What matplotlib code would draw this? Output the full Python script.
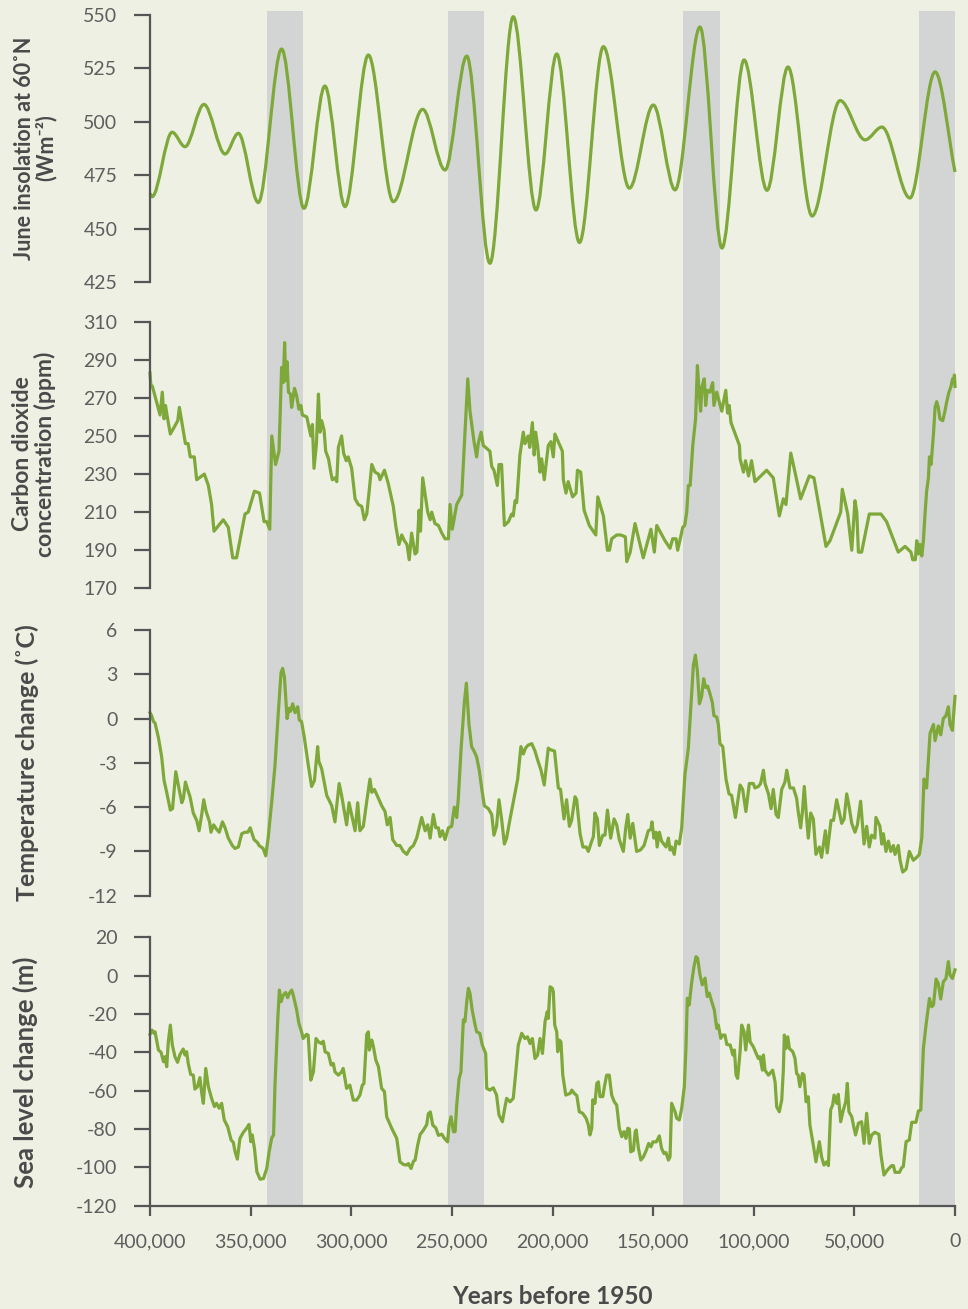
import numpy as np
import matplotlib
matplotlib.use("Agg")
import matplotlib.pyplot as plt
from matplotlib.path import Path
from matplotlib.patches import PathPatch

plt.rcParams['font.family'] = ['Lato', 'DejaVu Sans']
plt.rcParams['axes.unicode_minus'] = False

# ---- data (ages in thousands of years before 1950) ----
ins_age = [400.0, 399.0, 389.0, 382.6, 373.2, 362.7, 356.1, 346.2, 334.6, 323.5,
           313.1, 303.1, 291.5, 279.1, 264.5, 253.4, 242.6, 231.1, 219.5, 208.2,
           197.9, 186.6, 174.7, 161.8, 149.9, 139.1, 126.7, 115.8, 104.8, 93.4,
           83.0, 71.0, 57.1, 44.7, 36.3, 22.4, 9.9, 0.0]
ins_wm2 = [466.6, 465.0, 495.2, 488.4, 508.2, 485.0, 494.7, 462.3, 534.1, 459.6,
           516.8, 460.4, 531.3, 462.7, 505.9, 477.5, 530.8, 433.9, 549.2, 458.8,
           531.8, 443.6, 535.2, 469.0, 507.9, 468.2, 544.4, 441.0, 529.0, 468.0,
           525.7, 456.0, 510.0, 491.6, 497.6, 464.4, 523.4, 476.6]

co2_age = [400.0, 399.6, 398.8, 395.0, 393.9, 393.0, 392.3, 391.4, 389.9, 386.2,
           385.4, 382.4, 381.1, 380.0, 378.0, 376.8, 373.0, 371.0, 369.4, 368.2,
           363.6, 361.1, 358.9, 357.0, 352.8, 351.2, 348.1, 345.6, 343.3, 342.0,
           340.5, 339.5, 337.6, 335.9, 334.6, 333.8, 333.1, 332.6, 331.9, 331.2,
           330.2, 329.6, 328.2, 327.1, 326.0, 325.0, 324.3, 322.1, 320.1, 319.3,
           318.5, 317.3, 316.3, 315.5, 314.7, 313.5, 312.7, 311.3, 310.0, 309.4,
           308.0, 307.2, 306.4, 304.8, 303.8, 302.5, 301.5, 299.8, 298.1, 296.5,
           294.8, 293.5, 292.3, 291.2, 289.8, 288.2, 286.5, 285.7, 283.5, 281.6,
           279.1, 277.9, 276.3, 274.9, 273.6, 272.3, 271.2, 270.0, 268.3, 267.4,
           266.3, 265.6, 264.5, 262.0, 260.8, 260.0, 258.4, 256.7, 255.0, 253.4,
           251.7, 250.9, 249.8, 247.6, 245.1, 243.5, 242.1, 241.0, 239.0, 237.7,
           236.9, 235.5, 234.4, 231.1, 230.2, 229.1, 227.4, 226.6, 225.3, 223.9,
           221.9, 220.3, 219.5, 218.6, 217.8, 216.2, 214.5, 213.7, 212.1, 211.3,
           210.0, 209.1, 208.4, 207.4, 206.2, 205.4, 204.1, 202.1, 200.8, 199.6,
           198.8, 195.1, 194.6, 193.3, 192.2, 190.0, 188.3, 187.6, 186.0, 184.3,
           181.7, 178.5, 177.5, 174.7, 172.7, 171.7, 170.6, 168.1, 166.1, 163.8,
           163.1, 161.4, 159.0, 154.9, 151.1, 149.4, 148.2, 144.1, 141.6, 140.3,
           138.6, 137.8, 136.3, 135.3, 134.3, 133.3, 132.5, 131.6, 130.3, 128.9,
           128.0, 127.2, 126.4, 125.7, 124.6, 123.9, 123.1, 121.8, 120.4, 119.8,
           118.4, 115.9, 113.9, 113.0, 112.2, 111.3, 108.5, 107.1, 106.8, 105.1,
           104.1, 102.6, 101.1, 99.4, 93.6, 90.3, 87.3, 85.3, 84.0, 81.6,
           79.5, 76.7, 72.4, 70.1, 67.1, 64.1, 62.1, 56.8, 56.0, 53.3,
           51.3, 49.7, 48.8, 48.0, 46.4, 42.6, 36.8, 34.0, 28.2, 24.8,
           21.9, 21.0, 19.7, 19.0, 18.2, 17.4, 16.5, 15.7, 14.9, 14.1,
           13.2, 12.7, 11.9, 10.7, 9.9, 9.1, 8.3, 7.5, 6.1, 5.0,
           4.1, 3.0, 2.0, 1.2, 0.5, 0.3, 0.0]
co2_ppm = [283, 277, 276, 261, 273, 259, 266, 260, 251, 258,
           265, 246, 246, 239, 239, 227, 230, 224, 214, 200,
           206, 202, 186, 186, 209, 210, 221, 220, 205, 205,
           201, 250, 235, 242, 286, 278, 299, 279, 289, 273,
           272, 265, 275, 271, 264, 266, 261, 260, 250, 256,
           233, 246, 272, 252, 258, 253, 242, 238, 230, 227,
           228, 226, 244, 250, 241, 237, 239, 233, 217, 214,
           213, 206, 209, 220, 235, 231, 230, 227, 232, 225,
           213, 203, 193, 198, 195, 193, 185, 199, 188, 189,
           211, 200, 228, 210, 206, 210, 204, 203, 199, 196,
           196, 214, 201, 214, 219, 252, 280, 263, 247, 239,
           246, 252, 245, 242, 234, 232, 224, 235, 235, 203,
           205, 209, 208, 216, 215, 240, 252, 246, 250, 244,
           257, 240, 252, 245, 231, 238, 227, 245, 247, 239,
           251, 242, 227, 220, 226, 218, 220, 232, 231, 211,
           203, 198, 218, 208, 190, 190, 196, 198, 198, 197,
           184, 189, 204, 186, 201, 189, 203, 195, 191, 196,
           196, 190, 197, 202, 203, 210, 224, 224, 245, 259,
           287, 274, 263, 276, 280, 266, 274, 273, 278, 266,
           273, 263, 274, 262, 266, 257, 249, 245, 238, 231,
           237, 229, 237, 226, 232, 228, 208, 217, 214, 241,
           231, 217, 229, 228, 210, 192, 195, 210, 222, 209,
           190, 216, 210, 189, 189, 209, 209, 205, 189, 192,
           189, 185, 185, 195, 188, 193, 187, 195, 209, 221,
           228, 239, 235, 251, 265, 268, 265, 259, 258, 263,
           268, 273, 276, 280, 278, 282, 276]

temp_age = [400.0, 399.2, 398.3, 397.5, 395.8, 394.2, 393.0, 391.7, 389.9, 388.8,
            387.2, 385.8, 384.2, 383.4, 382.4, 381.3, 380.1, 378.5, 376.8, 375.6,
            374.3, 373.3, 372.1, 370.4, 369.7, 368.4, 366.9, 365.6, 364.0, 362.7,
            361.1, 359.1, 357.8, 356.1, 354.4, 352.8, 351.4, 350.2, 348.3, 346.6,
            345.8, 343.8, 342.5, 341.3, 339.5, 337.9, 336.2, 334.9, 334.1, 333.2,
            331.9, 330.9, 330.1, 329.1, 327.9, 326.6, 325.8, 324.7, 323.3, 321.3,
            319.7, 318.3, 316.7, 316.1, 314.7, 312.2, 309.7, 308.1, 306.0, 304.8,
            302.3, 301.1, 299.5, 298.1, 296.8, 295.7, 294.0, 292.3, 290.7, 289.8,
            288.5, 286.5, 284.9, 283.2, 282.1, 280.7, 279.4, 277.4, 275.8, 274.1,
            272.4, 270.8, 269.1, 267.5, 265.0, 263.3, 262.0, 260.8, 259.2, 258.0,
            256.7, 255.9, 254.7, 253.4, 251.7, 250.1, 248.8, 247.6, 246.8, 245.5,
            243.8, 242.8, 241.5, 240.2, 239.0, 237.7, 236.4, 235.2, 233.9, 231.9,
            230.2, 229.1, 227.8, 226.6, 225.3, 223.9, 222.8, 221.1, 219.0, 217.3,
            215.7, 214.5, 213.4, 212.1, 210.3, 208.7, 207.4, 205.7, 204.1, 202.1,
            201.2, 199.0, 197.1, 196.0, 194.3, 193.0, 191.6, 190.5, 188.8, 188.0,
            186.3, 184.9, 183.3, 182.2, 180.5, 179.7, 178.9, 177.7, 176.7, 175.0,
            173.9, 172.7, 171.1, 169.4, 168.1, 166.8, 164.8, 163.6, 162.6, 161.4,
            160.1, 158.2, 156.3, 154.5, 152.4, 151.1, 150.6, 149.6, 148.6, 148.0,
            146.9, 145.8, 143.6, 142.4, 141.6, 140.8, 139.5, 138.6, 137.0, 135.8,
            134.2, 132.5, 131.3, 130.0, 129.0, 128.0, 127.0, 125.9, 124.9, 123.9,
            122.9, 121.8, 120.6, 119.8, 118.4, 117.6, 116.8, 115.4, 113.8, 112.3,
            111.0, 109.1, 106.8, 105.5, 103.9, 102.2, 100.2, 99.4, 97.7, 96.6,
            95.2, 94.4, 92.7, 91.4, 90.3, 88.9, 87.8, 86.1, 84.5, 83.6,
            82.0, 80.3, 78.7, 77.9, 76.7, 75.8, 74.9, 73.7, 72.9, 71.7,
            70.4, 69.1, 67.4, 66.3, 64.4, 63.5, 61.6, 60.4, 58.8, 57.4,
            56.3, 55.1, 53.8, 52.7, 51.3, 49.7, 48.5, 46.9, 45.2, 43.9,
            42.6, 41.4, 39.8, 39.3, 37.3, 36.4, 35.6, 34.3, 33.1, 31.9,
            30.6, 29.8, 28.2, 27.3, 26.0, 24.3, 22.7, 20.7, 19.0, 17.7,
            16.5, 15.4, 14.1, 12.4, 10.7, 9.9, 8.3, 7.1, 5.8, 4.5,
            3.3, 2.5, 1.3, 0.0]
temp_dc = [0.4, 0.2, -0.2, -0.3, -1.3, -2.6, -4.2, -5.0, -6.2, -6.1,
           -3.6, -4.6, -5.7, -5.4, -4.3, -4.8, -5.3, -6.4, -6.9, -7.6,
           -6.5, -5.5, -6.3, -7.0, -7.7, -7.2, -7.5, -7.7, -7.0, -7.4,
           -8.1, -8.6, -8.8, -8.7, -7.8, -7.7, -7.7, -7.4, -8.2, -8.4,
           -8.6, -8.8, -9.3, -8.1, -5.6, -3.2, 0.5, 3.1, 3.4, 2.8,
           0.0, 0.7, 0.5, 1.0, 0.4, 0.8, -0.1, -0.2, -1.3, -3.2,
           -4.6, -4.2, -1.9, -2.9, -3.4, -5.2, -5.9, -7.0, -4.4, -5.2,
           -7.2, -5.7, -6.7, -7.6, -5.7, -7.6, -7.3, -5.6, -4.1, -5.0,
           -4.8, -5.4, -5.9, -6.3, -7.2, -6.7, -8.2, -8.6, -8.6, -9.0,
           -9.2, -8.8, -8.6, -8.1, -6.7, -7.6, -7.2, -8.1, -6.5, -7.4,
           -7.4, -8.0, -7.6, -8.2, -7.4, -7.3, -6.0, -6.7, -5.4, -2.2,
           1.1, 2.4, -0.4, -1.9, -2.2, -2.6, -3.5, -4.7, -5.9, -6.1,
           -6.5, -7.9, -7.3, -5.5, -6.8, -8.5, -8.1, -6.8, -5.3, -4.1,
           -1.9, -2.4, -2.0, -1.8, -1.7, -2.2, -2.8, -3.5, -4.5, -2.0,
           -2.1, -2.2, -4.7, -4.8, -6.8, -5.5, -7.3, -6.9, -5.3, -5.5,
           -7.8, -8.7, -8.7, -9.0, -8.3, -8.0, -6.4, -6.8, -8.6, -7.9,
           -7.9, -6.2, -8.1, -6.8, -7.2, -8.2, -9.0, -7.4, -6.5, -8.1,
           -7.1, -9.0, -8.9, -8.6, -7.6, -7.5, -7.0, -8.1, -7.7, -8.7,
           -7.7, -8.3, -8.7, -8.1, -8.9, -8.7, -9.2, -8.3, -8.5, -7.4,
           -3.8, -2.0, 0.7, 3.6, 4.3, 3.2, 1.0, 1.5, 2.7, 2.1,
           2.2, 1.7, 1.1, 0.2, 0.1, -0.4, -1.7, -1.9, -4.1, -5.1,
           -5.2, -6.7, -4.5, -4.8, -6.3, -4.4, -4.4, -4.7, -4.6, -4.4,
           -3.5, -4.4, -5.1, -6.1, -4.8, -6.5, -6.7, -4.8, -4.3, -3.5,
           -4.7, -4.7, -5.4, -6.3, -7.4, -6.3, -4.6, -6.8, -8.1, -6.4,
           -6.8, -9.2, -8.7, -9.4, -7.6, -9.1, -6.9, -6.9, -5.5, -6.4,
           -7.1, -6.8, -5.1, -5.9, -7.1, -7.7, -7.2, -5.6, -8.5, -7.3,
           -8.7, -7.9, -8.1, -6.7, -7.3, -8.5, -7.8, -9.0, -8.3, -9.0,
           -8.6, -9.2, -8.6, -9.6, -10.4, -10.2, -9.0, -9.6, -9.4, -9.2,
           -8.1, -4.1, -4.7, -1.0, -0.4, -1.5, -0.5, -1.1, 0.0, 0.2,
           0.8, -0.4, -0.8, 1.5]

sea_age = [400.0, 399.0, 398.0, 397.5, 395.8, 394.5, 393.3, 392.5, 391.7, 390.9,
           389.9, 388.9, 387.6, 386.3, 385.1, 383.5, 382.6, 381.8, 381.0, 379.8,
           378.5, 377.7, 376.4, 375.2, 374.4, 373.5, 372.3, 371.0, 369.4, 368.0,
           366.9, 365.6, 364.4, 363.1, 361.4, 359.7, 358.6, 357.8, 356.6, 355.3,
           353.6, 352.0, 350.8, 349.9, 349.2, 348.1, 346.9, 345.3, 343.6, 342.0,
           340.8, 339.5, 338.6, 337.9, 336.5, 335.7, 334.9, 333.8, 332.6, 331.6,
           330.8, 329.6, 328.8, 327.1, 326.0, 324.7, 323.9, 322.2, 321.4, 320.1,
           318.8, 317.5, 316.3, 315.0, 313.9, 313.0, 311.4, 310.0, 308.9, 308.1,
           306.4, 304.8, 304.0, 302.3, 300.7, 299.0, 297.3, 295.7, 294.5, 293.7,
           292.3, 291.5, 291.0, 289.8, 289.0, 287.8, 286.5, 284.9, 283.5, 282.4,
           279.9, 277.4, 275.8, 274.1, 272.4, 271.6, 270.3, 269.1, 268.3, 267.0,
           265.8, 264.2, 262.5, 261.7, 260.7, 259.5, 258.0, 256.7, 255.0, 253.7,
           252.1, 251.4, 250.4, 249.2, 248.4, 247.6, 246.4, 245.5, 244.3, 243.5,
           242.6, 241.8, 241.0, 239.9, 238.6, 237.7, 236.1, 234.9, 233.2, 232.7,
           231.1, 229.4, 227.8, 226.6, 224.9, 223.9, 222.8, 221.1, 219.5, 218.3,
           217.0, 215.3, 213.7, 212.4, 211.2, 210.0, 208.7, 207.4, 206.2, 205.0,
           203.7, 202.6, 202.1, 201.2, 200.1, 199.6, 198.9, 197.9, 197.4, 196.6,
           195.8, 194.9, 193.4, 191.2, 190.4, 189.2, 187.9, 186.7, 185.0, 183.3,
           182.2, 181.4, 180.5, 180.0, 178.9, 178.0, 177.2, 176.4, 175.0, 174.2,
           173.1, 171.8, 170.6, 169.3, 168.1, 166.8, 165.6, 164.5, 163.5, 162.6,
           161.8, 161.1, 159.8, 158.9, 158.4, 157.3, 156.1, 154.8, 153.4, 152.2,
           151.1, 150.1, 148.4, 146.9, 145.8, 144.6, 143.6, 142.4, 141.6, 140.8,
           139.1, 138.3, 137.0, 135.8, 134.5, 133.7, 133.0, 132.1, 130.8, 129.7,
           128.7, 127.9, 126.7, 125.6, 124.2, 123.1, 122.1, 120.9, 119.6, 118.4,
           117.6, 116.4, 115.4, 114.3, 113.4, 111.7, 110.4, 109.6, 108.8, 108.0,
           106.8, 106.0, 104.8, 104.0, 102.6, 101.8, 100.2, 98.8, 97.7, 96.9,
           95.7, 95.2, 94.4, 92.7, 90.6, 89.4, 88.6, 87.3, 86.1, 85.3,
           84.8, 84.0, 83.1, 82.3, 80.6, 79.5, 78.7, 77.9, 77.1, 75.8,
           75.0, 74.0, 72.9, 72.1, 70.4, 69.1, 67.4, 66.3, 65.1, 63.8,
           62.9, 61.8, 60.8, 60.1, 58.8, 58.0, 56.8, 55.5, 54.3, 53.5,
           52.7, 51.3, 50.5, 49.4, 48.0, 46.4, 45.2, 43.9, 42.6, 41.4,
           39.8, 37.8, 36.8, 35.3, 33.6, 31.5, 30.6, 29.8, 27.6, 26.5,
           25.7, 24.3, 22.7, 21.5, 19.4, 18.2, 17.0, 15.7, 14.4, 12.7,
           11.6, 10.7, 9.4, 8.3, 7.1, 5.8, 4.5, 3.3, 2.5, 1.3,
           0.0]
sea_m = [-30.6, -28.4, -30.1, -29.3, -38.8, -40.0, -44.9, -42.3, -47.5, -34.5,
         -25.8, -36.2, -42.3, -45.2, -41.1, -38.3, -41.4, -39.7, -45.8, -51.5,
         -51.9, -59.2, -57.9, -53.2, -60.5, -66.6, -48.4, -57.9, -64.0, -68.3,
         -66.6, -69.2, -66.6, -75.3, -78.8, -85.7, -87.0, -91.5, -95.7, -84.9,
         -81.7, -79.6, -77.6, -86.6, -83.1, -90.1, -102.3, -106.2, -105.8, -100.6,
         -91.9, -84.6, -83.1, -57.1, -22.3, -7.5, -13.6, -10.2, -8.8, -11.5,
         -9.3, -7.5, -10.2, -18.0, -25.0, -29.3, -32.8, -30.6, -31.1, -54.5,
         -50.2, -32.8, -34.5, -35.4, -34.2, -39.7, -40.6, -46.6, -45.8, -50.2,
         -51.9, -50.2, -48.4, -58.8, -57.1, -64.9, -64.9, -62.3, -57.1, -56.3,
         -30.6, -29.3, -38.8, -33.6, -37.0, -44.0, -47.5, -58.8, -60.5, -73.6,
         -79.6, -84.9, -97.1, -98.5, -98.8, -98.0, -100.6, -96.8, -96.3, -88.5,
         -82.9, -80.7, -77.7, -72.0, -71.1, -78.0, -79.4, -83.3, -82.7, -84.9,
         -86.7, -78.0, -73.6, -81.4, -81.4, -67.5, -53.6, -50.2, -23.1, -24.0,
         -13.6, -6.6, -9.3, -18.0, -25.0, -29.3, -30.1, -36.2, -40.6, -58.8,
         -59.7, -58.5, -62.3, -72.7, -76.2, -70.1, -64.0, -65.8, -64.0, -51.0,
         -36.2, -30.1, -32.8, -31.9, -35.4, -32.8, -43.2, -41.4, -32.8, -40.6,
         -24.0, -18.8, -22.3, -5.8, -6.6, -8.4, -25.8, -29.3, -39.7, -33.6,
         -34.5, -51.8, -62.3, -61.4, -59.7, -61.4, -62.6, -71.0, -71.8, -74.4,
         -77.9, -83.1, -79.6, -64.8, -66.6, -56.2, -55.4, -63.1, -63.1, -57.9,
         -51.9, -51.9, -62.3, -65.8, -67.5, -79.6, -84.0, -81.4, -84.9, -79.6,
         -80.0, -91.9, -91.1, -81.4, -80.5, -90.1, -96.2, -94.5, -91.1, -87.5,
         -89.3, -86.7, -86.7, -83.6, -90.1, -92.8, -92.3, -96.2, -94.5, -66.6,
         -71.0, -74.4, -75.3, -69.2, -57.9, -37.9, -11.8, -15.3, -3.2, 4.7,
         9.9, 9.1, 0.4, -4.8, -1.3, -10.9, -9.1, -13.5, -17.9, -27.5,
         -25.8, -32.7, -31.0, -31.0, -35.9, -36.2, -41.4, -38.8, -51.8, -53.6,
         -39.7, -25.8, -29.3, -38.8, -25.8, -34.5, -37.1, -40.6, -43.2, -42.3,
         -49.3, -41.4, -49.3, -51.9, -49.3, -55.4, -68.4, -71.0, -64.8, -49.3,
         -31.0, -38.0, -31.9, -38.0, -39.7, -43.2, -51.0, -51.9, -57.9, -51.0,
         -51.9, -65.8, -63.2, -77.9, -88.4, -97.1, -86.6, -94.5, -98.8, -97.1,
         -99.1, -70.1, -67.5, -62.3, -66.6, -61.9, -76.2, -70.1, -65.8, -56.2,
         -71.0, -73.6, -77.9, -83.1, -77.0, -76.2, -87.5, -71.8, -87.5, -83.1,
         -81.7, -82.8, -93.5, -104.0, -101.4, -99.1, -99.1, -102.6, -102.6, -100.2,
         -99.6, -86.6, -85.7, -76.5, -76.5, -70.6, -70.1, -38.0, -25.8, -11.9,
         -16.2, -15.3, -1.8, -4.1, -12.2, -3.2, -1.5, 7.3, 0.4, -1.5,
         3.0]

# interglacial periods shaded in grey (start, end in kyr)
warm_periods = [(342, 324), (252, 234), (135, 117), (18, 0)]

ins_ticks = [425, 450, 475, 500, 525, 550]
co2_ticks = [170, 190, 210, 230, 250, 270, 290, 310]
temp_ticks = [-12, -9, -6, -3, 0, 3, 6]
sea_ticks = [-120, -100, -80, -60, -40, -20, 0, 20]
year_ticks = [400000, 350000, 300000, 250000, 200000, 150000, 100000, 50000, 0]

# ---- style ----
bg = '#eef0e3'
green = '#7ea83a'
band = '#d3d5d4'
axis_col = '#555555'
tick_col = '#5e5e5e'
label_col = '#4a4a4a'

W, H = 968, 1309
fig = plt.figure(figsize=(W / 100, H / 100), dpi=100, facecolor=bg)

left = 150 / W
width = 805 / W


def fy(px):
    return 1 - px / H


# grey bands run through all four panels
ax_bg = fig.add_axes([left, fy(1205.7), width, fy(11) - fy(1205.7)])
ax_bg.set_xlim(400000, 0)
ax_bg.set_ylim(0, 1)
ax_bg.axis('off')
for a, b in warm_periods:
    ax_bg.axvspan(a * 1000, b * 1000, color=band, lw=0)

panels = [(15, 282.3), (321.7, 588.3), (630, 895.7), (937.3, 1205.7)]
axes = []
for top, bot in panels:
    ax = fig.add_axes([left, fy(bot), width, fy(top) - fy(bot)])
    ax.set_facecolor('none')
    ax.set_xlim(400000, 0)
    for s in ['top', 'right', 'bottom']:
        ax.spines[s].set_visible(False)
    ax.spines['left'].set_color(axis_col)
    ax.spines['left'].set_linewidth(1.6)
    ax.tick_params(axis='y', direction='out', length=11.5, width=1.6,
                   color=axis_col, labelcolor=tick_col, labelsize=14, pad=12)
    ax.tick_params(axis='x', bottom=False, labelbottom=False)
    axes.append(ax)

ax1, ax2, ax3, ax4 = axes


def smooth_line(ax, x, y, **kw):
    # cubic Bezier through the points, flat tangents at the turning points
    x = np.asarray(x, float)
    y = np.asarray(y, float)
    m = np.zeros(len(x))
    m[0] = (y[1] - y[0]) / (x[1] - x[0])
    m[-1] = (y[-1] - y[-2]) / (x[-1] - x[-2])
    verts = [(x[0], y[0])]
    codes = [Path.MOVETO]
    for i in range(len(x) - 1):
        dx = x[i + 1] - x[i]
        verts += [(x[i] + dx / 3, y[i] + m[i] * dx / 3),
                  (x[i + 1] - dx / 3, y[i + 1] - m[i + 1] * dx / 3),
                  (x[i + 1], y[i + 1])]
        codes += [Path.CURVE4] * 3
    patch = PathPatch(Path(verts, codes), fill=False, **kw)
    ax.add_patch(patch)
    return patch


line_kw = dict(color=green, lw=2.3, clip_on=False, solid_joinstyle='round')

smooth_line(ax1, np.array(ins_age) * 1000, ins_wm2, edgecolor=green, lw=2.3,
            clip_on=False, joinstyle='round')
ax1.set_ylim(425, 550)
ax1.set_yticks(ins_ticks)

ax2.plot(np.array(co2_age) * 1000, co2_ppm, **line_kw)
ax2.set_ylim(170, 310)
ax2.set_yticks(co2_ticks)

ax3.plot(np.array(temp_age) * 1000, temp_dc, **line_kw)
ax3.set_ylim(-12, 6)
ax3.set_yticks(temp_ticks)

ax4.plot(np.array(sea_age) * 1000, sea_m, **line_kw)
ax4.set_ylim(-120, 20)
ax4.set_yticks(sea_ticks)
ax4.spines['bottom'].set_visible(True)
ax4.spines['bottom'].set_color(axis_col)
ax4.spines['bottom'].set_linewidth(1.6)
ax4.set_xticks(year_ticks)
ax4.set_xticklabels([f'{v:,}' for v in year_ticks])
ax4.tick_params(axis='x', bottom=True, labelbottom=True, direction='out',
                length=7, width=1.6, color=axis_col, labelcolor=tick_col,
                labelsize=14, pad=13)

# axis titles
lab = dict(rotation=90, ha='center', va='center', multialignment='center',
           fontweight='bold', color=label_col, linespacing=1.0)
fig.text(35 / W, fy(148), 'June insolation at 60˚N\n(Wm⁻²)', fontsize=15.5, **lab)
fig.text(34 / W, fy(454), 'Carbon dioxide\nconcentration (ppm)', fontsize=16.5, **lab)
fig.text(27 / W, fy(763), 'Temperature change (˚C)', fontsize=18, **lab)
fig.text(25 / W, fy(1072), 'Sea level change (m)', fontsize=18.5, **lab)
fig.text(552 / W, fy(1296), 'Years before 1950', ha='center', va='center',
         fontsize=17.5, fontweight='bold', color=label_col)

fig.savefig('out.png', dpi=100, facecolor=bg)
